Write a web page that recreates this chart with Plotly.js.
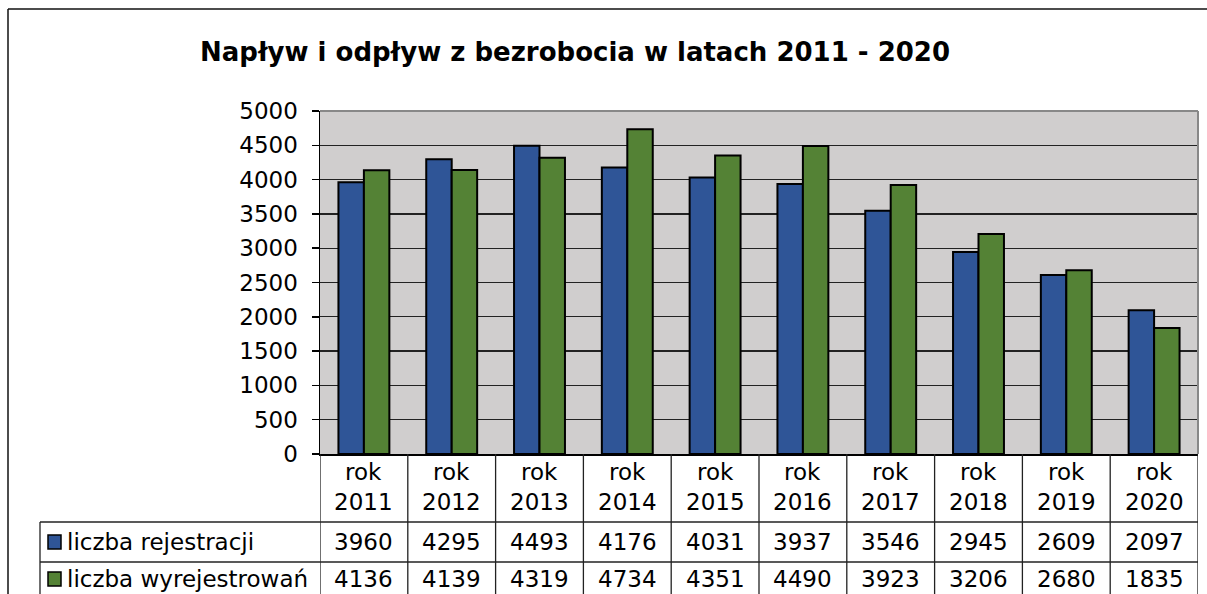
<!DOCTYPE html>
<html><head><meta charset="utf-8">
<script src="https://cdn.plot.ly/plotly-3.0.1.min.js"></script>
<style>html,body{margin:0;padding:0;background:#fff}#chart{width:1207px;height:594px}</style>
</head><body><div id="chart"></div>
<script>
const years = ["2011","2012","2013","2014","2015","2016","2017","2018","2019","2020"];
const categories = years.map(y => "rok " + y);
const seriesNames = ["liczba rejestracji", "liczba wyrejestrowań"];
const rejestracje = [3960, 4295, 4493, 4176, 4031, 3937, 3546, 2945, 2609, 2097];
const wyrejestrowania = [4136, 4139, 4319, 4734, 4351, 4490, 3923, 3206, 2680, 1835];
const colors = ["#2F5597", "#548235"];
const FONT = "DejaVu Sans, Liberation Sans, Arial, sans-serif";

const W = 1207, H = 594;
const L = 320, R = 1198, T = 111, B = 454;
const pw = R - L, ph = B - T;
const py = Y => (B - Y) / ph;     // pixel Y -> paper y
const px = X => (X - L) / pw;     // pixel X -> paper x

const traces = [rejestracje, wyrejestrowania].map((vals, k) => ({
  type: "bar", name: seriesNames[k], x: categories, y: vals,
  marker: {color: colors[k], line: {color: "#000", width: 2}},
  hoverinfo: "x+y"
}));

const shapes = [];
const annotations = [];
const lineStyle = {color: "#222", width: 1.3};
const rowHeader = py(522), row1 = py(562), bottom = py(600);

// outer chart border
shapes.push({type: "line", xref: "paper", yref: "paper", x0: px(8), x1: px(1210), y0: py(9), y1: py(9), line: {color: "#111", width: 1.5}});
shapes.push({type: "line", xref: "paper", yref: "paper", x0: px(8), x1: px(8), y0: py(9), y1: bottom, line: {color: "#111", width: 1.5}});
// plot area top/right gray border
shapes.push({type: "line", xref: "paper", yref: "paper", x0: 0, x1: 1, y0: 1, y1: 1, line: {color: "#888", width: 2}});
shapes.push({type: "line", xref: "paper", yref: "paper", x0: 1, x1: 1, y0: 0, y1: 1, line: {color: "#888", width: 2}});

// table: vertical lines at category boundaries
for (let i = 0; i <= categories.length; i++) {
  shapes.push({type: "line", xref: "x", yref: "paper", x0: i - 0.5, x1: i - 0.5, y0: 0, y1: bottom, line: lineStyle});
}
// horizontal lines
shapes.push({type: "line", xref: "paper", yref: "paper", x0: px(40), x1: 1, y0: rowHeader, y1: rowHeader, line: lineStyle});
shapes.push({type: "line", xref: "paper", yref: "paper", x0: px(40), x1: 1, y0: row1, y1: row1, line: lineStyle});
shapes.push({type: "line", xref: "paper", yref: "paper", x0: px(40), x1: px(40), y0: rowHeader, y1: bottom, line: lineStyle});

const tfont = {family: FONT, size: 23, color: "#000"};
// header row
years.forEach((y, i) => {
  annotations.push({xref: "x", yref: "paper", x: categories[i], y: py(487), text: "rok<br>" + y,
    showarrow: false, font: tfont, xanchor: "center", yanchor: "middle"});
});
// data rows
const rows = [rejestracje, wyrejestrowania];
const rowCenters = [py(542), py(579)];
rows.forEach((vals, k) => {
  vals.forEach((v, i) => {
    annotations.push({xref: "x", yref: "paper", x: categories[i], y: rowCenters[k], text: String(v),
      showarrow: false, font: tfont, xanchor: "center", yanchor: "middle"});
  });
  // legend key
  shapes.push({type: "rect", xref: "paper", yref: "paper", x0: px(48), x1: px(61), y0: rowCenters[k] - 7 / ph, y1: rowCenters[k] + 7 / ph,
    fillcolor: colors[k], line: {color: "#000", width: 1.5}});
  annotations.push({xref: "paper", yref: "paper", x: px(65), y: rowCenters[k], text: seriesNames[k],
    showarrow: false, font: tfont, xanchor: "left", yanchor: "middle"});
});

const layout = {
  width: W, height: H,
  margin: {l: L, r: W - R, t: T, b: H - B, pad: 0},
  paper_bgcolor: "#fff", plot_bgcolor: "#D0CECE",
  title: {text: "<b>Napływ i odpływ z bezrobocia w latach 2011 - 2020</b>", x: 575 / W, xanchor: "center", y: 1 - 52 / H, yanchor: "middle",
    font: {family: FONT, size: 26, color: "#000"}},
  showlegend: false,
  barmode: "group", bargap: 0.42, bargroupgap: 0,
  xaxis: {type: "category", showticklabels: false, ticks: "", showline: true, linecolor: "#000", linewidth: 1.5,
    showgrid: false, zeroline: false, range: [-0.5, categories.length - 0.5], fixedrange: true},
  yaxis: {range: [0, 5000], dtick: 500, tick0: 0, ticks: "outside", ticklen: 7, tickwidth: 1.5, tickcolor: "#000",
    showline: true, linecolor: "#000", linewidth: 1.5, showgrid: true, gridcolor: "#222", gridwidth: 1.3,
    zeroline: false, tickfont: {family: FONT, size: 23, color: "#000"}, ticklabelstandoff: 9, fixedrange: true},
  shapes: shapes, annotations: annotations
};

Plotly.newPlot("chart", traces, layout, {displayModeBar: false, staticPlot: true});
</script></body></html>
